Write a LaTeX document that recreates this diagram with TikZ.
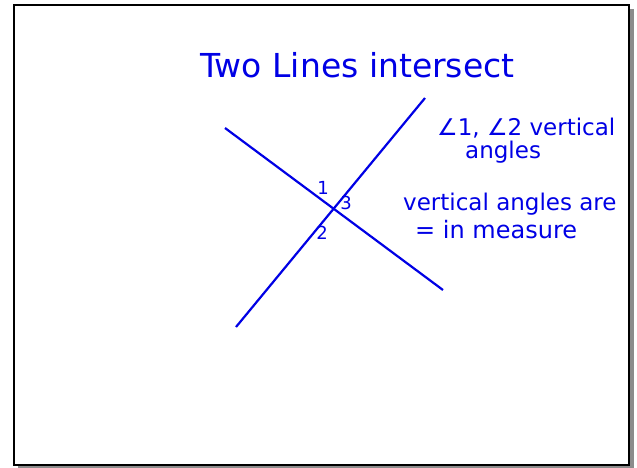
\documentclass[tikz,border=0pt]{standalone}
\usepackage{fontspec}
\setmainfont{DejaVu Sans}
\usepackage{tikz}

\tikzset{
  ink/.style={color=blue!90!black},
  note/.style={ink,anchor=base west,inner sep=0pt,font=\fontsize{23}{25}\selectfont},
  anglenum/.style={ink,inner sep=0pt,font=\fontsize{18}{20}\selectfont}
}

\begin{document}
\begin{tikzpicture}[x=1pt,y=-1pt]
\useasboundingbox (0,0) rectangle (637,467);

% slide frame with shadow
\fill[black!45] (18,9) rectangle (634,469);
\draw[line width=2pt,fill=white] (14,5) rectangle (629,465);

% title
\node[note,font=\fontsize{33}{35}\selectfont] (title) at (200,77) {Two Lines intersect};

% the two lines
\coordinate (a1) at (225,128);
\coordinate (a2) at (443,290);
\coordinate (b1) at (236,327);
\coordinate (b2) at (425,98);
\draw[ink,line width=2.2pt] (a1) -- (a2);
\draw[ink,line width=2.2pt] (b1) -- (b2);

\node[anglenum] (n1) at (323,188) {1};
\node[anglenum] (n3) at (346,203) {3};
\node[anglenum] (n2) at (322,233) {2};

% notes
\node[note] (vert) at (437,135) {∠1, ∠2 vertical};
\node[note] (ang) at (465,158) {angles};
\node[note] (are) at (403,210) {vertical angles are};
\node[note,font=\fontsize{24}{26}\selectfont] (meas) at (415,238) {= in measure};

\end{tikzpicture}
\end{document}
